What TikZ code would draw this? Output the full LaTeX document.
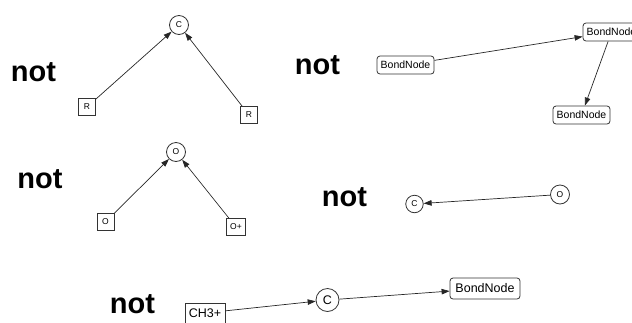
\documentclass[tikz,border=0pt]{standalone}
\usepackage{fontspec}
\setmainfont{Liberation Sans}
\usetikzlibrary{arrows.meta}
\begin{document}
\begin{tikzpicture}[x=1pt,y=-1pt,
  nottext/.style={font=\fontsize{29}{29}\selectfont\bfseries, inner sep=0pt},
  atomc/.style={circle,draw=black!80,line width=0.8pt,inner sep=0pt,minimum size=19pt,font=\fontsize{8.5}{9}\selectfont},
  atomb/.style={rectangle,draw=black!80,line width=0.8pt,inner sep=0pt,minimum size=17pt,font=\fontsize{8.5}{9}\selectfont},
  bondn/.style={rectangle,rounded corners=3pt,draw=black!80,line width=0.8pt,inner sep=0pt,minimum width=57pt,minimum height=18pt,font=\fontsize{10.5}{11}\selectfont},
  bigc/.style={atomc,minimum size=23pt,font=\fontsize{12.5}{13}\selectfont},
  bigb/.style={atomb,minimum width=40pt,minimum height=20pt,font=\fontsize{12.5}{13}\selectfont},
  bigbond/.style={bondn,minimum width=70pt,minimum height=21pt,font=\fontsize{12.5}{13}\selectfont},
  link/.style={-{Triangle[length=8pt,width=5.5pt]},line width=0.7pt,draw=black!85}
]
\useasboundingbox (0,0) rectangle (632,322);
\clip (0,0) rectangle (632,322);
% panel 1
\node[nottext] (n1) at (33.5,72.5) {not};
\node[atomc] (c1) at (179,25) {C};
\node[atomb] (r1) at (87,107) {R};
\node[atomb] (r2) at (249,115) {R};
\draw[link] (r1) -- (c1);
\draw[link] (r2) -- (c1);
% panel 2
\node[nottext] (n2) at (317.5,65.5) {not};
\node[bondn] (b1) at (405.5,65) {BondNode};
\node[bondn] (b2) at (611.5,32) {BondNode};
\node[bondn] (b3) at (581.5,115) {BondNode};
\draw[link] (b1) -- (b2);
\draw[link] (b2) -- (b3);
% panel 3
\node[nottext] (n3) at (40,179.5) {not};
\node[atomc] (o1) at (176,152) {O};
\node[atomb] (o2) at (105.5,222) {O};
\node[atomb,minimum width=19pt] (o3) at (236,227) {O+};
\draw[link] (o2) -- (o1);
\draw[link] (o3) -- (o1);
% panel 4
\node[nottext] (n4) at (344.5,197.5) {not};
\node[atomc,minimum size=17.5pt] (c4) at (414.5,204) {C};
\node[atomc] (o4) at (560,194.5) {O};
\draw[link] (o4) -- (c4);
% panel 5
\node[nottext] (n5) at (132.5,304) {not};
\node[bigb] (ch) at (205,313) {CH3+};
\node[bigc] (c5) at (327.5,300) {C};
\node[bigbond] (b5) at (485,288.5) {BondNode};
\draw[link] (ch) -- (c5);
\draw[link] (c5) -- (b5);
\end{tikzpicture}
\end{document}
